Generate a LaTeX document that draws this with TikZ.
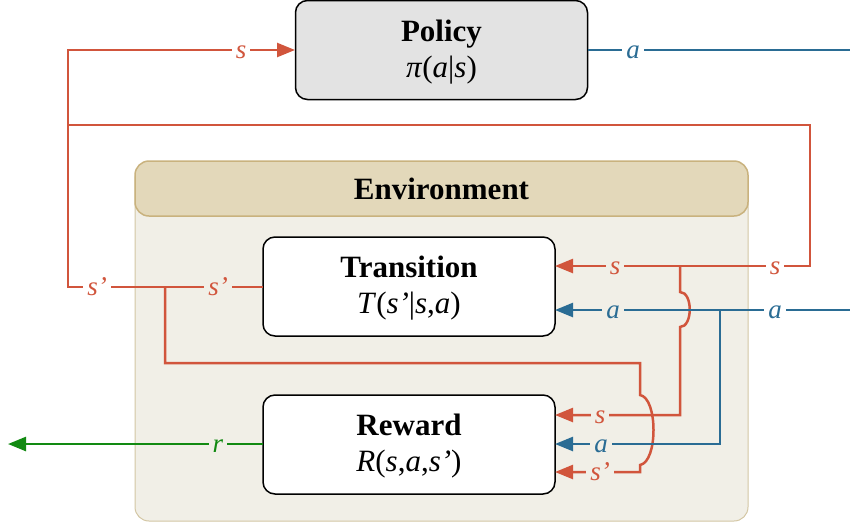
\documentclass[tikz,border=0pt]{standalone}
\usepackage{fontspec}
\setmainfont{Liberation Serif}
\usetikzlibrary{arrows.meta}

\definecolor{sred}{HTML}{D1553C}
\definecolor{ablue}{HTML}{2A6C94}
\definecolor{rgreen}{HTML}{128A12}
\definecolor{policyfill}{HTML}{E3E3E3}
\definecolor{envfill}{HTML}{F1EFE7}
\definecolor{envhead}{HTML}{E3D8BA}
\definecolor{envheadline}{HTML}{C9B27E}
\definecolor{envline}{HTML}{D3C6A3}

\newcommand{\toprule}{\rule{0pt}{25.5pt}}

\tikzset{
  box/.style={draw=black, line width=1.5pt, rounded corners=12pt, fill=white,
    minimum width=292pt, minimum height=99pt, align=center,
    font=\fontsize{31}{36}\selectfont},
  wire/.style={line width=2.5pt},
  tip/.style={-{Triangle[length=18pt,width=14pt]}},
  lab/.style={inner xsep=4pt, inner ysep=2pt, anchor=base, yshift=-8pt,
    font=\fontsize{27}{30}\selectfont\itshape},
}

\begin{document}
\begin{tikzpicture}[x=1pt,y=-1pt]
\useasboundingbox (0,0) rectangle (850,523);

% environment panel and its title band
\draw[envline, line width=1pt, fill=envfill, rounded corners=14pt]
  (135,165) rectangle (748,521);
\node[draw=envheadline, line width=1.5pt, fill=envhead, rounded corners=14pt,
  minimum width=613pt, minimum height=55pt,
  font=\fontsize{31}{36}\selectfont\bfseries] (env) at (441.5,188.5) {Environment};

% the three blocks
\node[box, fill=policyfill] (policy) at (441.5,50)
  {\toprule\textbf{Policy}\\\textit{π}(\textit{a}|\textit{s})};
\node[box] (trans) at (409,286.5)
  {\toprule\textbf{Transition}\\\textit{T}(\textit{s’}|\textit{s},\textit{a})};
\node[box] (reward) at (409,444.5)
  {\toprule\textbf{Reward}\\\textit{R}(\textit{s},\textit{a},\textit{s’})};

% ports and bends
\coordinate (tS) at (555,266);
\coordinate (tA) at (555,310);
\coordinate (tOut) at (263,287);
\coordinate (rS) at (555,415);
\coordinate (rA) at (555,444);
\coordinate (rSp) at (555,472);
\coordinate (pIn) at (295,50);
\coordinate (rOut) at (263,444);
\coordinate (leftBot) at (68,287);
\coordinate (leftTop) at (68,50);
\coordinate (loopJ) at (68,125);
\coordinate (loopR) at (810,125);
\coordinate (loopD) at (810,266);
\coordinate (sJ) at (680,266);
\coordinate (spJ) at (165,287);
\coordinate (aJ) at (720,310);
\coordinate (aIn) at (850,310);
\coordinate (aOut) at (850,50);
\coordinate (rEnd) at (8,444);

% state wires
\draw[wire, sred, tip] (tOut) -- (leftBot) -- (leftTop) -- (pIn);
\draw[wire, sred, tip] (loopJ) -- (loopR) -- (loopD) -- (tS);
\draw[wire, sred, tip] (sJ) -- (680,292)
  .. controls (693,292) and (693,327) .. (680,327) -- (680,415) -- (rS);
\draw[wire, sred, tip] (spJ) -- (165,363) -- (640,363) -- (640,395)
  .. controls (658,398) and (658,462) .. (640,465) -- (640,472) -- (rSp);

% action wires
\draw[wire, ablue] (policy.east) -- (aOut);
\draw[wire, ablue, tip] (aIn) -- (tA);
\draw[wire, ablue, tip] (aJ) -- (720,444) -- (rA);

% reward wire
\draw[wire, rgreen, tip] (rOut) -- (rEnd);

% wire labels
\node[lab, sred, fill=white] (l1) at (241,50) {s};
\node[lab, ablue, fill=white] (l2) at (633,50) {a};
\node[lab, sred, fill=white] (l3) at (97,287) {s’};
\node[lab, sred, fill=envfill] (l4) at (218,287) {s’};
\node[lab, sred, fill=white] (l5) at (775,266) {s};
\node[lab, sred, fill=envfill] (l6) at (615,266) {s};
\node[lab, ablue, fill=white] (l7) at (775,310) {a};
\node[lab, ablue, fill=envfill] (l8) at (613,310) {a};
\node[lab, sred, fill=envfill] (l9) at (600,415) {s};
\node[lab, ablue, fill=envfill] (l10) at (601,444) {a};
\node[lab, sred, fill=envfill] (l11) at (600,472) {s’};
\node[lab, rgreen, fill=envfill] (l12) at (218,444) {r};
\end{tikzpicture}
\end{document}
